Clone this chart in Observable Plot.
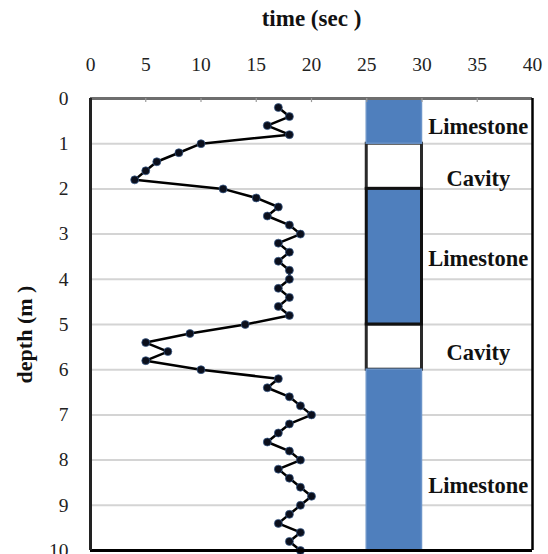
<!DOCTYPE html>
<html>
<head>
<meta charset="utf-8">
<script src="https://cdn.jsdelivr.net/npm/d3@7"></script>
<script src="https://cdn.jsdelivr.net/npm/@observablehq/plot@0.6"></script>
<style>
  html, body { margin: 0; padding: 0; background: #fff; }
  #chart svg, #chart svg text { font-family: "Liberation Serif", "Times New Roman", serif !important; }
</style>
</head>
<body>
<div id="chart"></div>
<script>
// Measured travel time (sec) vs depth (m)
const depth = [0.2,0.4,0.6,0.8,1.0,1.2,1.4,1.6,1.8,2.0,
               2.2,2.4,2.6,2.8,3.0,3.2,3.4,3.6,3.8,4.0,
               4.2,4.4,4.6,4.8,5.0,5.2,5.4,5.6,5.8,6.0,
               6.2,6.4,6.6,6.8,7.0,7.2,7.4,7.6,7.8,8.0,
               8.2,8.4,8.6,8.8,9.0,9.2,9.4,9.6,9.8,10.0];
const time  = [17,18,16,18,10,8,6,5,4,12,
               15,17,16,18,19,17,18,17,18,18,
               17,18,17,18,14,9,5,7,5,10,
               17,16,18,19,20,18,17,16,18,19,
               17,18,19,20,19,18,17,19,18,19];

// Lithology column
const layerTop    = [0, 1, 2, 5, 6];
const layerBottom = [1, 2, 5, 6, 10];
const layerName   = ["Limestone", "Cavity", "Limestone", "Cavity", "Limestone"];
const layerLabelDepth = [0.62, 1.77, 3.54, 5.62, 8.56];
const columnFrom = 25, columnTo = 30, labelAt = 35.1;

// Ticks
const xTicks = [0, 5, 10, 15, 20, 25, 30, 35, 40];
const yTicks = [0, 1, 2, 3, 4, 5, 6, 7, 8, 9, 10];
const gridDepths = [1, 2, 3, 4, 5, 6, 7, 8, 9];

const points = depth.map((d, i) => ({depth: d, time: time[i]}));
const layers = layerTop.map((t, i) => ({
  top: t, bottom: layerBottom[i], name: layerName[i], labelDepth: layerLabelDepth[i]
}));
const limestone = layers.filter(d => d.name === "Limestone");
const cavity = layers.filter(d => d.name === "Cavity");

const chart = Plot.plot({
  width: 548,
  height: 554,
  marginLeft: 90,
  marginRight: 16,
  marginTop: 98,
  marginBottom: 4,
  style: {fontFamily: "Liberation Serif, serif", fontSize: "18px", color: "#222", background: "#fff"},
  x: {domain: [0, 40]},
  y: {domain: [0, 10], reverse: true},
  marks: [
    Plot.ruleY(gridDepths, {stroke: "#d4d4d4", strokeWidth: 2}),
    Plot.rect(cavity, {x1: columnFrom, x2: columnTo, y1: "top", y2: "bottom", fill: "#fff", stroke: "#2a2a2a", strokeWidth: 3}),
    Plot.rect(limestone, {x1: columnFrom, x2: columnTo, y1: "top", y2: "bottom", fill: "#4f7fbd",
      stroke: d => d.top === 2 ? "#111" : "#6a93c8", strokeWidth: d => d.top === 2 ? 3 : 1.5}),
    Plot.text(layers, {x: labelAt, y: "labelDepth", text: "name", fontWeight: "bold", fontSize: 22.5, fill: "#111"}),
    Plot.line(points, {x: "time", y: "depth", stroke: "#000", strokeWidth: 2.5}),
    Plot.dot(points, {x: "time", y: "depth", r: 4, fill: "#0b0f1c", stroke: "#3b5f8f", strokeWidth: 0.7}),
    // frame
    Plot.ruleY([0], {stroke: "#6e6e6e", strokeWidth: 3}),
    Plot.ruleX(xTicks.slice(1, -1), {y1: 0, y2: 0.09, stroke: "#9a9a9a", strokeWidth: 1.2}),
    Plot.ruleY([10], {stroke: "#000", strokeWidth: 3}),
    Plot.ruleX([0], {stroke: "#222", strokeWidth: 3}),
    Plot.ruleX([40], {stroke: "#000", strokeWidth: 2.5}),
    // axes
    Plot.axisX({anchor: "top", ticks: xTicks, tickSize: 0, tickPadding: 28, label: null, fontSize: 19.5}),
    Plot.axisY({anchor: "left", ticks: yTicks, tickSize: 0, tickPadding: 22, label: null, fontSize: 19.5}),
    Plot.text(["time (sec )"], {frameAnchor: "top", textAnchor: "middle", dy: -89, fontWeight: "bold", fontSize: 23, fill: "#111"}),
    Plot.text(["depth (m )"], {frameAnchor: "left", textAnchor: "middle", dx: -66, dy: 10, rotate: -90, fontWeight: "bold", fontSize: 22, fill: "#111"})
  ]
});
document.getElementById("chart").appendChild(chart);
</script>
</body>
</html>
